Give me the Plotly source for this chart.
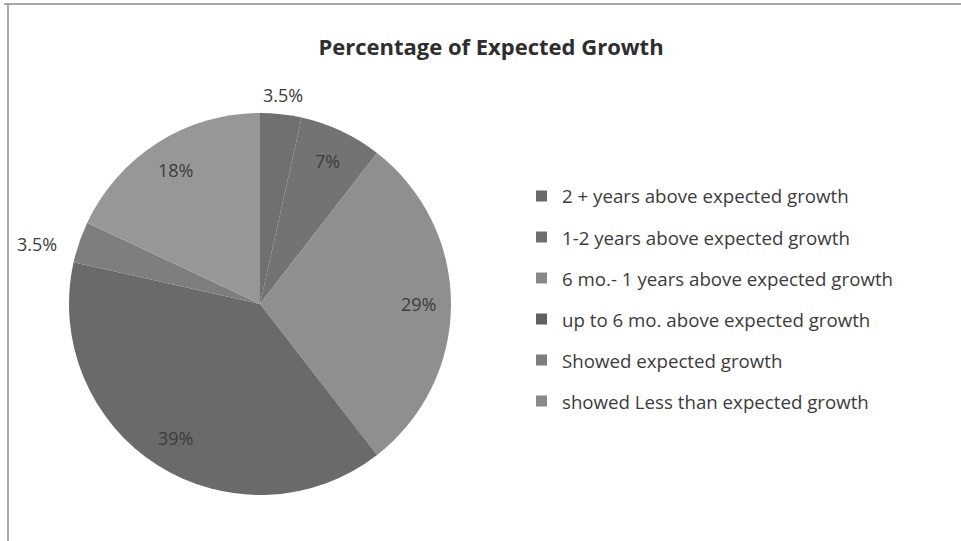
import math
import plotly.graph_objects as go

categories = [
    "2 + years above expected growth",
    "1-2 years above expected growth",
    "6 mo.- 1 years above expected growth",
    "up to 6 mo. above expected growth",
    "Showed expected growth",
    "showed Less than expected growth",
]
values = [3.5, 7, 29, 39, 3.5, 18]
value_labels = ["3.5%", "7%", "29%", "39%", "3.5%", "18%"]
slice_colors = ["#707070", "#737373", "#8f8f8f", "#6a6a6a", "#7e7e7e", "#979797"]
legend_colors = ["#6a6a6a", "#6f6f6f", "#888888", "#606060", "#7d7d7d", "#8a8a8a"]

W, H = 961, 541
FONT = "Open Sans"
TXT = "#3c3c3c"
cx, cy, R = 260, 304, 191

fig = go.Figure()
fig.add_trace(go.Pie(
    labels=categories,
    values=values,
    sort=False,
    direction="clockwise",
    rotation=0,
    marker=dict(colors=slice_colors, line=dict(width=0)),
    textinfo="none",
    hoverinfo="label+percent",
    showlegend=False,
    domain=dict(x=[(cx - R) / W, (cx + R) / W], y=[1 - (cy + R) / H, 1 - (cy - R) / H]),
))

annotations = []
total = sum(values)
cum = 0
for v, lab in zip(values, value_labels):
    mid = (cum + v / 2) / total * 2 * math.pi
    cum += v
    s, c = math.sin(mid), math.cos(mid)
    if v / total < 0.05:
        r = 1.1 * R
        px, py = cx + r * s, cy - r * c
        xa = "right" if s < -0.3 else ("left" if s > 0.3 else "center")
        if xa == "right":
            px -= 2
            py += 8
        annotations.append(dict(x=px / W, y=1 - py / H, xref="paper", yref="paper",
                                text=lab, showarrow=False, xanchor=xa, yanchor="middle",
                                font=dict(family=FONT, size=18, color=TXT)))
    else:
        r = 0.83 * R
        px, py = cx + r * s, cy - r * c
        annotations.append(dict(x=px / W, y=1 - py / H, xref="paper", yref="paper",
                                text=lab, showarrow=False, xanchor="center", yanchor="middle",
                                font=dict(family=FONT, size=18, color=TXT)))

# manual legend
shapes = []
ly0, ldy = 196, 41
for i, (cat, col) in enumerate(zip(categories, legend_colors)):
    y = ly0 + i * ldy
    shapes.append(dict(type="rect", xref="paper", yref="paper",
                       x0=536 / W, x1=547 / W, y0=1 - (y + 5.5) / H, y1=1 - (y - 5.5) / H,
                       fillcolor=col, line=dict(width=0)))
    annotations.append(dict(x=560 / W, y=1 - y / H, xref="paper", yref="paper", text=cat,
                            showarrow=False, xanchor="left", yanchor="middle",
                            font=dict(family=FONT, size=18.7, color=TXT)))

# frame lines
shapes.append(dict(type="line", xref="paper", yref="paper", x0=4 / W, x1=1, y0=1 - 4 / H, y1=1 - 4 / H,
                   line=dict(color="#8a8a8a", width=1.5)))
shapes.append(dict(type="line", xref="paper", yref="paper", x0=8 / W, x1=8 / W, y0=0, y1=1 - 4 / H,
                   line=dict(color="#8a8a8a", width=1.5)))

fig.update_layout(
    width=W, height=H,
    margin=dict(l=0, r=0, t=0, b=0),
    paper_bgcolor="white", plot_bgcolor="white",
    title=dict(text="<b>Percentage of Expected Growth</b>", x=491 / W, xanchor="center",
               y=1 - 47 / H, yanchor="middle",
               font=dict(family=FONT, size=22, color="#2e2e2e")),
    annotations=annotations,
    shapes=shapes,
)

fig.write_html("out.html", config={"displayModeBar": False},
               post_script="document.body.style.margin='0px';")
